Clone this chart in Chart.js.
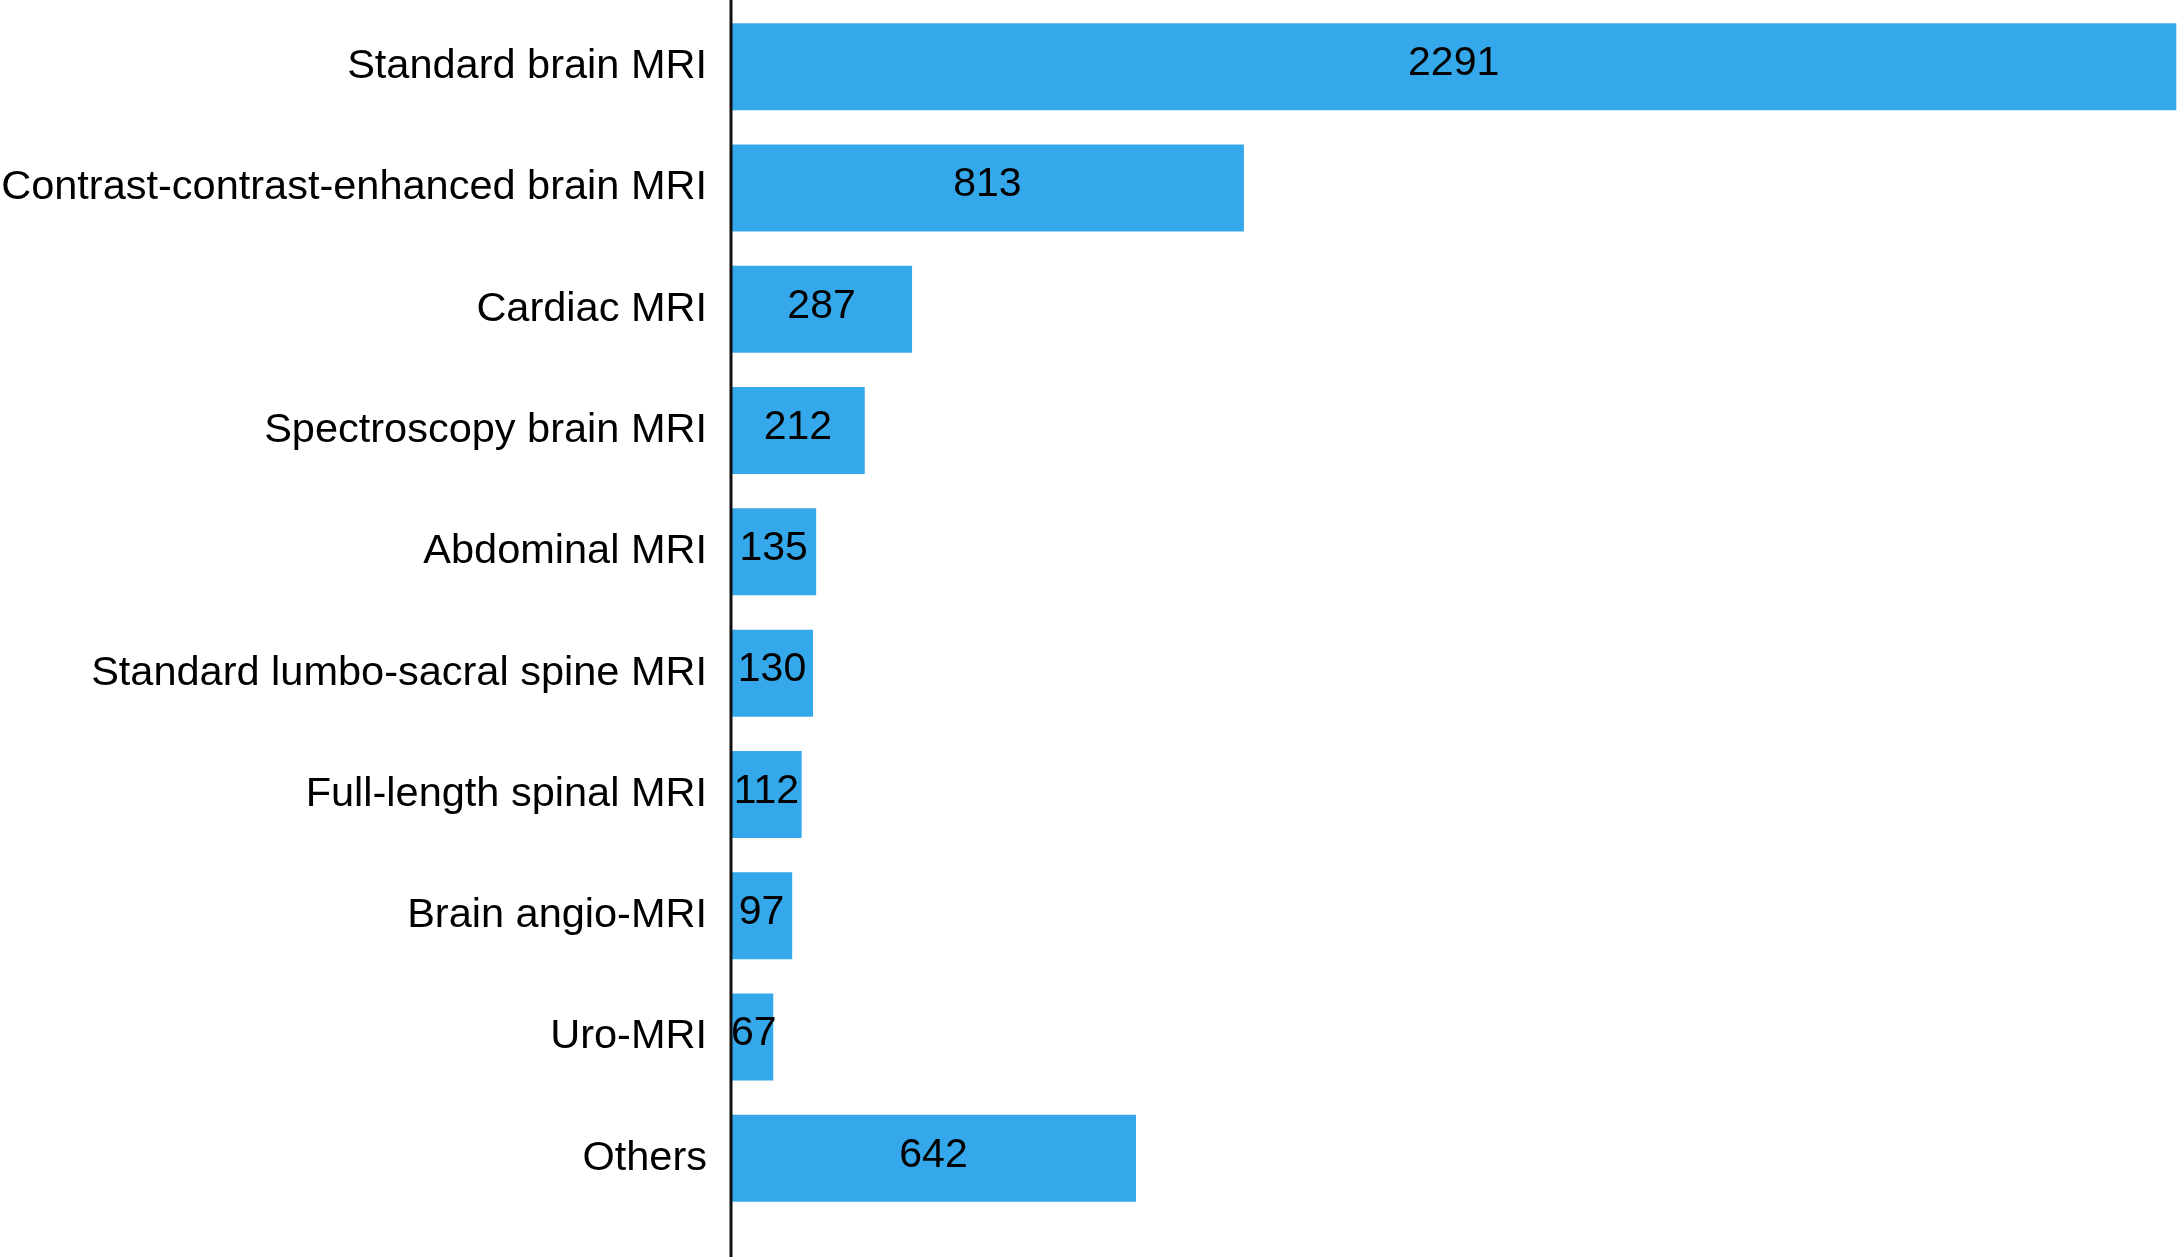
<!DOCTYPE html>
<html>
<head>
<meta charset="utf-8">
<script src="https://cdn.jsdelivr.net/npm/chart.js@4"></script>
<style>
  html, body { margin: 0; padding: 0; background: #fff; }
  #wrap { width: 2182px; height: 1257px; }
</style>
</head>
<body>
<div id="wrap"><canvas id="grafico"></canvas></div>
<script>
const categorias = [
  "Standard brain MRI",
  "Contrast-contrast-enhanced brain MRI",
  "Cardiac MRI",
  "Spectroscopy brain MRI",
  "Abdominal MRI",
  "Standard lumbo-sacral spine MRI",
  "Full-length spinal MRI",
  "Brain angio-MRI",
  "Uro-MRI",
  "Others"
];
const valores = [2291, 813, 287, 212, 135, 130, 112, 97, 67, 642];

const FUENTE = "'Liberation Sans', Arial, Helvetica, sans-serif";

// etiquetas de valor dentro de cada barra
const etiquetasValor = {
  id: 'etiquetasValor',
  afterDatasetsDraw(chart) {
    const ctx = chart.ctx;
    const meta = chart.getDatasetMeta(0);
    ctx.save();
    ctx.fillStyle = '#000';
    ctx.font = '41px ' + FUENTE;
    ctx.textAlign = 'center';
    ctx.textBaseline = 'middle';
    meta.data.forEach((bar, i) => {
      const cx = (bar.base + bar.x) / 2;
      const ancho = ctx.measureText(String(valores[i])).width;
      const x = Math.max(cx, bar.base + ancho / 2);
      ctx.fillText(String(valores[i]), x, bar.y - 3);
    });
    ctx.restore();
  }
};

// linea del eje vertical a lo alto de todo el lienzo
const lineaEje = {
  id: 'lineaEje',
  afterDraw(chart) {
    const ctx = chart.ctx;
    const x = chart.chartArea.left;
    ctx.save();
    ctx.strokeStyle = '#111';
    ctx.lineWidth = 3;
    ctx.beginPath();
    ctx.moveTo(x, 0);
    ctx.lineTo(x, chart.height);
    ctx.stroke();
    ctx.restore();
  }
};

new Chart(document.getElementById('grafico'), {
  type: 'bar',
  data: {
    labels: categorias,
    datasets: [{
      data: valores,
      backgroundColor: '#34A8EA',
      borderWidth: 0,
      categoryPercentage: 1,
      barPercentage: 0.717
    }]
  },
  options: {
    indexAxis: 'y',
    responsive: true,
    maintainAspectRatio: false,
    animation: false,
    layout: { padding: { top: 6, bottom: 38, left: 0, right: 0 } },
    plugins: {
      legend: { display: false },
      tooltip: { enabled: false }
    },
    scales: {
      x: {
        min: 0,
        max: 2300,
        display: false
      },
      y: {
        grid: { display: false, drawTicks: false },
        border: { display: false },
        afterFit(scale) {
          scale.width = 731;
          scale.paddingTop = 0;
          scale.paddingBottom = 0;
        },
        ticks: {
          color: '#000',
          padding: 24,
          font: { family: FUENTE, size: 41.5 }
        }
      }
    }
  },
  plugins: [etiquetasValor, lineaEje]
});
</script>
</body>
</html>
